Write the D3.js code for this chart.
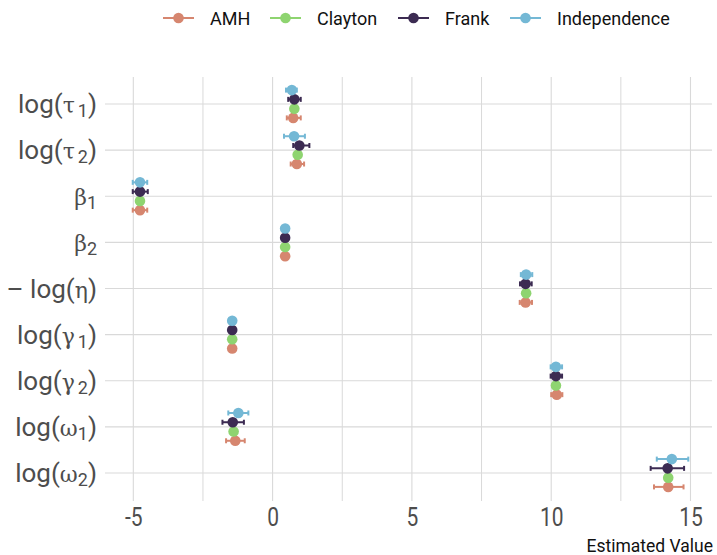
<!DOCTYPE html>
<html>
<head>
<meta charset="utf-8">
<script src="https://cdn.jsdelivr.net/npm/d3@7"></script>
<style>
  html, body { margin: 0; padding: 0; background: #fff; }
  svg { display: block; }
  text { font-family: Roboto, "Noto Sans", sans-serif; }
</style>
</head>
<body>
<div id="chart"></div>
<script>
// Parameters, top to bottom
const params = ["tau1", "tau2", "beta1", "beta2", "eta", "gamma1", "gamma2", "omega1", "omega2"];
// Copula families
const families = ["AMH", "Clayton", "Frank", "Independence"];
const familyColors = ["#d6866f", "#8ed470", "#3c2b52", "#74b8d5"];

// Point estimates per family, in the order of params
const estAMH          = [0.74, 0.87, -4.76, 0.45, 9.08, -1.45, 10.20, -1.34, 14.20];
const estClayton      = [0.78, 0.90, -4.76, 0.45, 9.10, -1.45, 10.17, -1.40, 14.20];
const estFrank        = [0.78, 0.96, -4.76, 0.45, 9.08, -1.45, 10.17, -1.43, 14.18];
const estIndependence = [0.69, 0.77, -4.76, 0.45, 9.10, -1.45, 10.17, -1.23, 14.33];

// Interval bounds per family
const lowAMH           = [0.51, 0.65, -5.02, 0.40, 8.87, -1.50, 10.00, -1.67, 13.69];
const highAMH          = [1.01, 1.13, -4.50, 0.50, 9.31, -1.40, 10.40, -1.00, 14.75];
const lowClayton       = [0.72, 0.84, -4.82, 0.40, 9.02, -1.50, 10.10, -1.46, 14.13];
const highClayton      = [0.84, 0.96, -4.70, 0.50, 9.18, -1.40, 10.24, -1.34, 14.27];
const lowFrank         = [0.56, 0.74, -5.02, 0.40, 8.88, -1.50, 9.98, -1.80, 13.57];
const highFrank        = [1.01, 1.32, -4.48, 0.50, 9.30, -1.40, 10.39, -1.03, 14.77];
const lowIndependence  = [0.48, 0.41, -5.02, 0.40, 8.91, -1.50, 9.98, -1.59, 13.79];
const highIndependence = [0.87, 1.16, -4.50, 0.50, 9.32, -1.40, 10.39, -0.87, 14.92];

const xTicks = [-5, 0, 5, 10, 15];
const xMinor = [-2.5, 2.5, 7.5, 12.5];
const xTitle = "Estimated Value";

// Axis label pieces: [prefix, greek, subscript, suffix]
const paramLabels = {
  tau1:   ["log(", "τ", "1", ")"],
  tau2:   ["log(", "τ", "2", ")"],
  beta1:  ["", "β", "1", ""],
  beta2:  ["", "β", "2", ""],
  eta:    ["– log(", "η", "", ")"],
  gamma1: ["log(", "γ", "1", ")"],
  gamma2: ["log(", "γ", "2", ")"],
  omega1: ["log(", "ω", "1", ")"],
  omega2: ["log(", "ω", "2", ")"]
};

const est  = { AMH: estAMH, Clayton: estClayton, Frank: estFrank, Independence: estIndependence };
const low  = { AMH: lowAMH, Clayton: lowClayton, Frank: lowFrank, Independence: lowIndependence };
const high = { AMH: highAMH, Clayton: highClayton, Frank: highFrank, Independence: highIndependence };

const rows = [];
families.forEach(f => params.forEach((p, i) => {
  rows.push({ family: f, param: p, est: est[f][i], lo: low[f][i], hi: high[f][i] });
}));

const W = 717, H = 555;
const panel = { left: 105, right: 712, top: 77, bottom: 501 };

const svg = d3.select("#chart").append("svg").attr("width", W).attr("height", H);

const x = d3.scaleLinear().domain([-5, 15]).range([133.3, 690.5]);
const y = d3.scalePoint().domain(params).range([104, 473]);
const dodge = d3.scalePoint().domain(families.slice().reverse()).range([-13.9, 13.9]);
const color = d3.scaleOrdinal().domain(families).range(familyColors);

// Grid
const gridColor = "#d9d9d9";
const grid = svg.append("g");
grid.selectAll("line.minor").data(xMinor).join("line")
  .attr("x1", d => x(d)).attr("x2", d => x(d))
  .attr("y1", panel.top).attr("y2", panel.bottom)
  .attr("stroke", gridColor).attr("stroke-width", 1);
grid.selectAll("line.major").data(xTicks).join("line")
  .attr("x1", d => x(d)).attr("x2", d => x(d))
  .attr("y1", panel.top).attr("y2", panel.bottom)
  .attr("stroke", gridColor).attr("stroke-width", 1.1);
grid.selectAll("line.h").data(params).join("line")
  .attr("x1", panel.left).attr("x2", panel.right)
  .attr("y1", d => y(d)).attr("y2", d => y(d))
  .attr("stroke", gridColor).attr("stroke-width", 1.1);

// X axis labels (narrow digits, plain hyphen for negatives)
const xAxis = svg.append("g").attr("transform", `translate(0,526)`)
  .call(d3.axisBottom(x).tickValues(xTicks).tickSize(0).tickPadding(0).tickFormat(d => String(d)));
xAxis.select(".domain").remove();
xAxis.selectAll("text").attr("dy", 0).attr("font-size", 25).attr("fill", "#4d4d4d")
  .attr("font-family", "Roboto").attr("transform", "scale(0.84,1)");

svg.append("text").attr("x", 713).attr("y", 552).attr("text-anchor", "end")
  .attr("font-size", 17.5).attr("fill", "#111")
  .text(xTitle);

// Y axis labels
const yLab = svg.append("g");
params.forEach(p => {
  const [pre, greek, sub, post] = paramLabels[p];
  const t = yLab.append("text").attr("x", 97).attr("y", y(p) + 9)
    .attr("text-anchor", "end").attr("font-size", 26).attr("fill", "#4d4d4d");
  if (pre) t.append("tspan").text(pre);
  t.append("tspan").attr("font-family", "DejaVu Serif").attr("font-size", 22).text(greek);
  if (sub) t.append("tspan").attr("font-size", 18).attr("dx", p.startsWith("tau") || p.startsWith("gamma") ? 3 : 0)
    .attr("dy", 4).text(sub);
  if (post) t.append("tspan").attr("dy", sub ? -4 : 0).text(post);
});

// Error bars and points
const marks = svg.append("g");
const g = marks.selectAll("g").data(rows).join("g")
  .attr("transform", d => `translate(0,${y(d.param) + dodge(d.family)})`);
g.append("line").attr("x1", d => x(d.lo)).attr("x2", d => x(d.hi))
  .attr("stroke", d => color(d.family)).attr("stroke-width", 2);
g.append("line").attr("x1", d => x(d.lo)).attr("x2", d => x(d.lo)).attr("y1", -2.5).attr("y2", 2.5)
  .attr("stroke", d => color(d.family)).attr("stroke-width", 2);
g.append("line").attr("x1", d => x(d.hi)).attr("x2", d => x(d.hi)).attr("y1", -2.5).attr("y2", 2.5)
  .attr("stroke", d => color(d.family)).attr("stroke-width", 2);
g.append("circle").attr("cx", d => x(d.est)).attr("r", 5.3).attr("fill", d => color(d.family));

// Legend
const legendX = [163, 270, 398, 510];
const legend = svg.append("g").attr("transform", "translate(0,18)");
families.forEach((f, i) => {
  const lg = legend.append("g").attr("transform", `translate(${legendX[i]},0)`);
  lg.append("line").attr("x1", 0).attr("x2", 31).attr("stroke", color(f)).attr("stroke-width", 2);
  lg.append("circle").attr("cx", 15.5).attr("r", 5.3).attr("fill", color(f));
  lg.append("text").attr("x", 47).attr("y", 6.5).attr("font-size", 18).attr("fill", "#111").text(f);
});
</script>
</body>
</html>
